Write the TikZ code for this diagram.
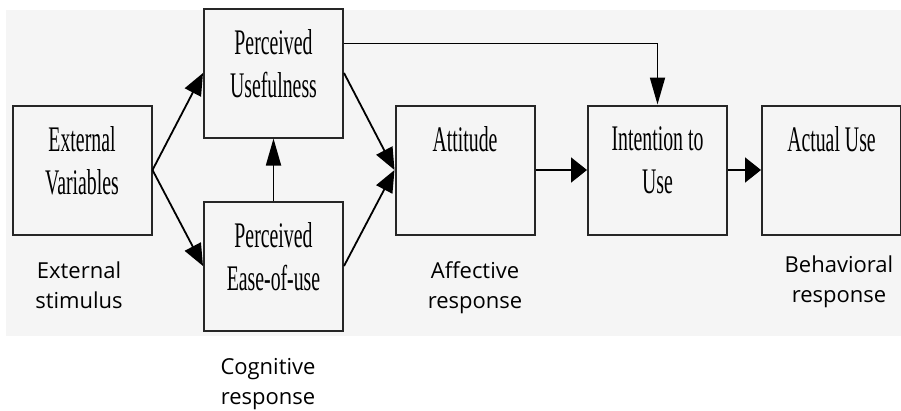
\documentclass[tikz,border=0pt]{standalone}
\usepackage{fontspec}
\setmainfont{Liberation Serif}
\newfontfamily\boxfont[FakeStretch=0.55]{Liberation Serif}
\newfontfamily\respfont{Open Sans}
\usetikzlibrary{arrows.meta}

\begin{document}
\begin{tikzpicture}[
x=1pt, y=-1pt,
box/.style={
    draw=black!85,
    line width=2pt,
    minimum width=139pt,
    minimum height=129pt,
    inner sep=0pt
},
boxtext/.style={
    font=\boxfont\fontsize{36}{43}\selectfont,
    align=center,
    anchor=north,
    inner sep=0pt
},
resp/.style={
    font=\respfont\fontsize{22}{30}\selectfont,
    align=center,
    anchor=base
},
hlink/.style={line width=1.8pt, -{Triangle[length=16pt, width=25pt]}},
vlink/.style={line width=1.8pt, -{Triangle[length=27pt, width=15pt]}},
dlink/.style={line width=1.8pt, -{Triangle[length=22pt, width=18pt]}}
]

\useasboundingbox (0,0) rectangle (901,410);
\fill[gray!8] (6,10) rectangle (901,336);

% boxes
\node[box] (ev)   at (82,170)    {};
\node[box] (pu)   at (273.5,73)  {};
\node[box] (peou) at (273.5,266) {};
\node[box] (att)  at (465,170)   {};
\node[box] (int)  at (657.5,170) {};
\node[box] (act)  at (831.5,170) {};

\node[boxtext] (ev-t)   at ([yshift=-22pt]ev.north)   {External\\Variables};
\node[boxtext] (pu-t)   at ([yshift=-22pt]pu.north)   {Perceived\\Usefulness};
\node[boxtext] (peou-t) at ([yshift=-22pt]peou.north) {Perceived\\Ease-of-use};
\node[boxtext] (att-t)  at ([yshift=-22pt]att.north)  {Attitude};
\node[boxtext] (int-t)  at ([yshift=-22pt]int.north)  {Intention to\\Use};
\node[boxtext] (act-t)  at ([yshift=-22pt]act.north)  {Actual Use};

% responses (base = last line)
\node[resp] (r-ext) at (79,308)  {External\\stimulus};
\node[resp] (r-cog) at (268,404) {Cognitive\\response};
\node[resp] (r-aff) at (475,308) {Affective\\response};
\node[resp] (r-beh) at (839,302) {Behavioral\\response};

% arrows
\draw[dlink] (ev.east) -- (pu.west);
\draw[dlink] (ev.east) -- (peou.west);
\draw[dlink] (pu.east) -- (att.west);
\draw[dlink] (peou.east) -- (att.west);
\draw[vlink] (peou.north) -- (pu.south);
\draw[vlink] ([yshift=-36pt]pu.north east) -| (int.north);
\draw[hlink] (att.east) -- (int.west);
\draw[hlink] (int.east) -- (act.west);
\end{tikzpicture}
\end{document}
